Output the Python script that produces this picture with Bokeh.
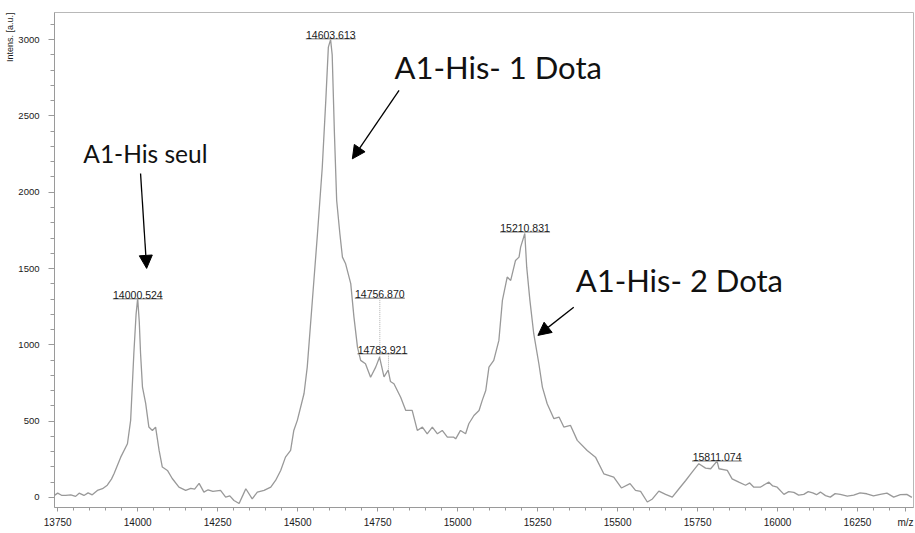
from bokeh.plotting import figure
from bokeh.models import (Range1d, SingleIntervalTicker, FixedTicker, Arrow, NormalHead,
                          ColumnDataSource, Title)
from bokeh.core.properties import value
from bokeh.embed import file_html
from bokeh.resources import INLINE

# ---- spectrum (m/z, intensity a.u.) ----
mz = [13741, 13750, 13762, 13775, 13791, 13806, 13817, 13832, 13845, 13858, 13874, 13890, 13905,
      13918, 13926, 13947, 13968, 13978, 13988, 13995, 14000, 14005, 14009, 14015, 14025,
      14035, 14046, 14056, 14067, 14077, 14093, 14108, 14129, 14150, 14166, 14178, 14192,
      14207, 14220, 14235, 14259, 14275, 14288, 14301, 14317, 14330, 14338, 14358, 14374,
      14395, 14416, 14431, 14447, 14462, 14478, 14488, 14499, 14520, 14530, 14546, 14562,
      14577, 14588, 14596, 14603, 14608, 14615, 14622, 14632, 14640, 14650, 14666, 14676,
      14687, 14697, 14712, 14728, 14744, 14756, 14770, 14783, 14790, 14801, 14822, 14838,
      14858, 14874, 14890, 14905, 14921, 14937, 14952, 14968, 14988, 14994, 15009, 15025,
      15035, 15051, 15067, 15077, 15088, 15098, 15113, 15129, 15140, 15155, 15166, 15181,
      15192, 15197, 15210, 15216, 15226, 15238, 15254, 15265, 15280, 15301, 15317, 15332,
      15353, 15374, 15405, 15431, 15457, 15488, 15512, 15539, 15556, 15572, 15593, 15609,
      15629, 15650, 15671, 15692, 15713, 15733, 15754, 15775, 15791, 15811, 15817, 15843,
      15858, 15879, 15900, 15913, 15926, 15946, 15960, 15973, 15985, 15999, 16020, 16035,
      16051, 16066, 16082, 16096, 16110, 16122, 16134, 16150, 16165, 16180, 16196, 16218,
      16238, 16258, 16279, 16300, 16321, 16342, 16363, 16384, 16404, 16420]
intensity = [15, 28, 14, 13, 17, 7, 28, 13, 30, 17, 46, 57, 80,
             120, 155, 264, 352, 505, 943, 1200, 1305, 1150, 943, 723, 616,
             461, 439, 461, 308, 199, 177, 124, 67, 46, 59, 55, 92,
             35, 50, 40, 46, 2, 10, -20, -40, 20, 57, -9, 35,
             46, 67, 111, 177, 264, 308, 439, 505, 681, 854, 1291, 1728,
             2164, 2602, 2951, 3000, 2900, 2384, 1946, 1728, 1575, 1531, 1401, 1182,
             985, 898, 876, 788, 854, 919, 790, 835, 760, 745, 657, 570,
             570, 439, 461, 417, 461, 417, 439, 395, 395, 384, 439, 417,
             483, 537, 570, 636, 701, 854, 898, 1029, 1291, 1444, 1422, 1553,
             1575, 1640, 1730, 1509, 1291, 1073, 876, 723, 614, 516, 527, 461,
             472, 374, 308, 264, 155, 133, 62, 90, 46, 40, -30, -10,
             41, 20, 2, 57, 111, 166, 221, 192, 188, 238, 188, 177,
             122, 100, 80, 95, 67, 67, 85, 100, 75, 67, 20, 38,
             33, 15, 20, 38, 30, 18, 35, 12, 2, 25, 20, 8,
             15, 30, 24, 10, 20, 28, 2, 18, 20, 0]

# ---- axes ----
x_ticks = [13750, 14000, 14250, 14500, 14750, 15000, 15250, 15500, 15750, 16000, 16250]
x_unit_pos = 16400          # where the "m/z" unit text sits on the x axis
x_title = "m/z"
y_title = "Intens. [a.u.]"

# ---- peak annotations ----
peak_mz = [14000.524, 14603.613, 14756.870, 14783.921, 15210.831, 15811.074]
peak_top = [1300, 3000, 919, 835, 1730, 238]          # intensity at the peak apex
label_level = [1302, 3006, 1306, 942, 1739, 238]      # intensity of the label underline
peak_text = ["14000.524", "14603.613", "14756.870", "14783.921", "15210.831", "15811.074"]

# ---- big annotations ----
note_text = ["A1-His seul", "A1-His- 1 Dota", "A1-His- 2 Dota"]
note_x = [13830, 14803, 15369]
note_y = [2256, 2820, 1422]
note_size = ["24.5px", "31px", "31px"]
arrow_x0 = [14009, 14817, 15363]
arrow_y0 = [2123, 2667, 1247]
arrow_x1 = [14028, 14671, 15251]
arrow_y1 = [1501, 2219, 1062]

p = figure(width=915, height=533, output_backend="svg", toolbar_location=None,
           x_range=Range1d(13740, 16425), y_range=Range1d(-66, 3178),
           min_border_left=54, min_border_top=12, min_border_right=2, min_border_bottom=26)
p.background_fill_color = "white"
p.border_fill_color = "white"
p.outline_line_color = "#b8b8b8"
p.xgrid.visible = False
p.ygrid.visible = False

p.xaxis.ticker = FixedTicker(ticks=x_ticks + [x_unit_pos],
                             minor_ticks=list(range(13750, 16425, 50)))
p.xaxis.major_label_overrides = {x_unit_pos: x_title}
p.yaxis.ticker = SingleIntervalTicker(interval=500, num_minor_ticks=5)
for ax in (p.xaxis, p.yaxis):
    ax.axis_line_color = "#9a9a9a"
    ax.major_tick_line_color = "#9a9a9a"
    ax.minor_tick_line_color = "#9a9a9a"
    ax.major_tick_in = 0
    ax.minor_tick_in = 0
    ax.major_label_text_color = "#1a1a1a"
    ax.major_label_text_font = "Liberation Sans"
p.xaxis.major_tick_out = 4
p.xaxis.minor_tick_out = 3
p.xaxis.major_label_standoff = 5
p.xaxis.major_label_text_font_size = "10px"
p.yaxis.major_tick_out = 6
p.yaxis.minor_tick_out = 4
p.yaxis.major_label_standoff = 9
p.yaxis.major_label_text_font = "Liberation Sans Narrow, Arial Narrow, Liberation Sans"
p.yaxis.major_label_text_font_size = "9.5px"

# y axis title, at the top of the left border
p.add_layout(Title(text=y_title, align="right", text_font="Liberation Sans",
                   text_font_size="9px", text_font_style="normal", text_color="#1a1a1a",
                   standoff=2, offset=0), "left")

# spectrum
p.line(mz, intensity, line_color="#999999", line_width=1.3)

# peak labels
px_per_unit = 859 / (16425 - 13740)
half_w = 25 / px_per_unit
x_shift = [0, 0, 0, -6 / px_per_unit, 0, 0]
lab_x = [m + s for m, s in zip(peak_mz, x_shift)]
src = ColumnDataSource(dict(x=lab_x, y=label_level, t=peak_text,
                            x0=[x - half_w for x in lab_x], x1=[x + half_w for x in lab_x],
                            mz=peak_mz, top=peak_top))
p.segment(x0="x0", y0="y", x1="x1", y1="y", source=src, line_color="#a0a0a0", line_width=1.5)
p.segment(x0="mz", y0="y", x1="mz", y1="top", source=src, line_color="#b0b0b0",
          line_width=1, line_dash="1 1")
p.text(x="x", y="y", text="t", source=src, text_align="center", text_baseline="alphabetic",
       y_offset=-4, text_font=value("Liberation Sans"), text_font_size="10.5px",
       text_color="#1a1a1a")

# big notes
nsrc = ColumnDataSource(dict(x=note_x, y=note_y, t=note_text, s=note_size))
p.text(x="x", y="y", text="t", source=nsrc, text_font=value("Lato"), text_font_size="s",
       text_align="left", text_baseline="alphabetic", text_color="#111111")
for x0, y0, x1, y1 in zip(arrow_x0, arrow_y0, arrow_x1, arrow_y1):
    p.add_layout(Arrow(end=NormalHead(size=13, fill_color="black", line_color="black"),
                       x_start=x0, y_start=y0, x_end=x1, y_end=y1,
                       line_color="black", line_width=1.3))

open("out.html", "w").write(file_html(p, INLINE))
